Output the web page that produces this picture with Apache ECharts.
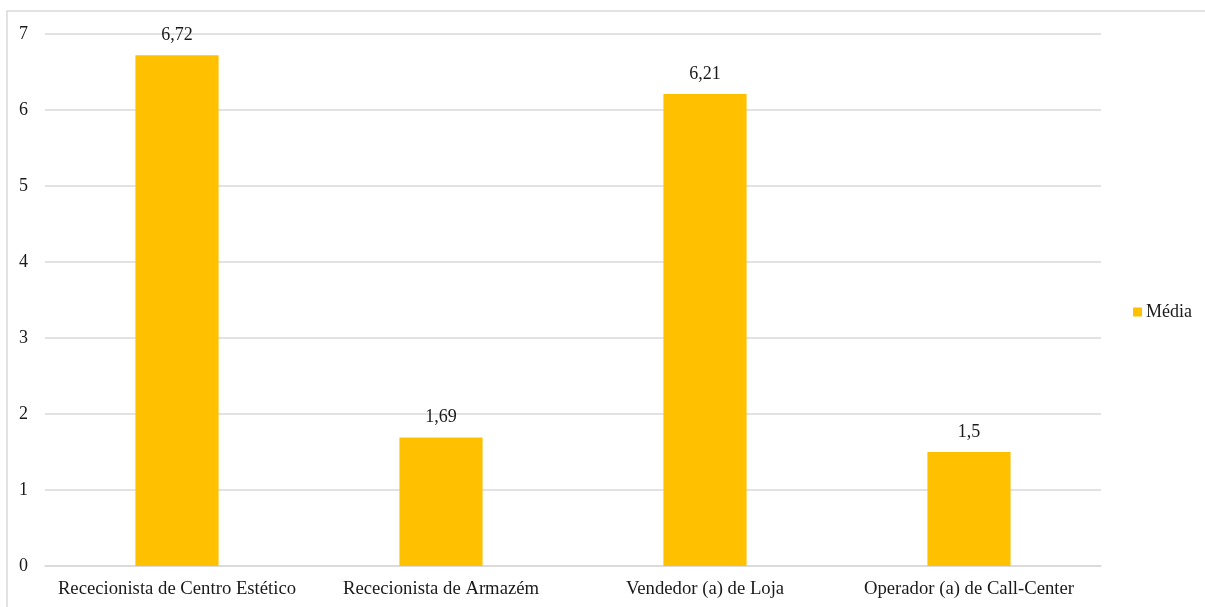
<!DOCTYPE html>
<html>
<head>
<meta charset="utf-8">
<script src="https://cdn.jsdelivr.net/npm/echarts@6/dist/echarts.min.js"></script>
<style>
  html, body { margin: 0; padding: 0; background: #fff; }
  #chart { width: 1205px; height: 607px; }
</style>
</head>
<body>
<div id="chart"></div>
<script>
// Categories and average values per job profile
const categories = [
  'Rececionista de Centro Estético',
  'Rececionista de Armazém',
  'Vendedor (a) de Loja',
  'Operador (a) de Call-Center'
];
const mediaValues = [6.72, 1.69, 6.21, 1.5];
const seriesName = 'Média';

const FONT = '"Liberation Serif", "Times New Roman", serif';
const TEXT = '#1a1a1a';
const GRID = '#d9d9d9';

const chart = echarts.init(document.getElementById('chart'));
chart.setOption({
  animation: false,
  backgroundColor: '#fff',
  textStyle: { fontFamily: FONT },
  graphic: [{
    type: 'rect',
    shape: { x: 7, y: 11, width: 1220, height: 620 },
    style: { fill: 'none', stroke: '#d9d9d9', lineWidth: 1.5 },
    silent: true,
    z: -1
  }],
  legend: {
    data: [seriesName],
    left: 1128,
    top: 298,
    orient: 'vertical',
    itemWidth: 9,
    itemHeight: 9,
    icon: 'rect',
    textStyle: { fontFamily: FONT, fontSize: 18, color: TEXT, padding: [0, 0, 0, -1] }
  },
  grid: { left: 45, right: 104, top: 34, bottom: 41, containLabel: false },
  xAxis: {
    type: 'category',
    data: categories,
    axisLine: { show: true, lineStyle: { color: GRID, width: 1.5 } },
    axisTick: { show: false },
    axisLabel: { fontFamily: FONT, fontSize: 18.7, color: TEXT, margin: 14, interval: 0 }
  },
  yAxis: {
    type: 'value',
    min: 0,
    max: 7,
    interval: 1,
    axisLine: { show: false },
    axisTick: { show: false },
    splitLine: { lineStyle: { color: GRID, width: 1.5 } },
    axisLabel: { fontFamily: FONT, fontSize: 18, color: TEXT, margin: 17 }
  },
  series: [{
    name: seriesName,
    type: 'bar',
    data: mediaValues,
    barWidth: '31.5%',
    itemStyle: { color: '#FFC000' },
    label: {
      show: true,
      position: 'top',
      distance: 11,
      fontFamily: FONT,
      fontSize: 18,
      color: TEXT,
      formatter: p => String(p.value).replace('.', ',')
    }
  }]
});
</script>
</body>
</html>
